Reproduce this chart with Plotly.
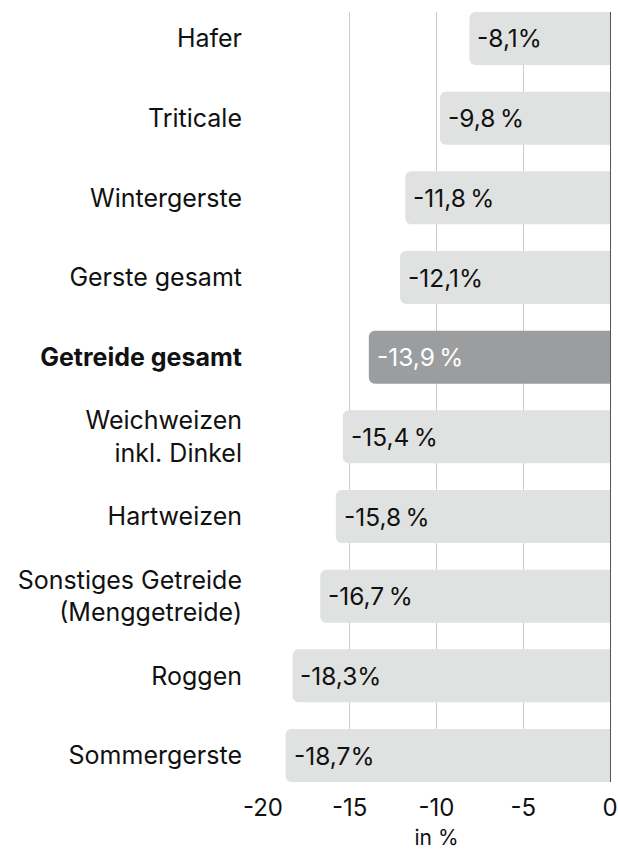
import plotly.graph_objects as go

categories = ["Hafer", "Triticale", "Wintergerste", "Gerste gesamt", "<b>Getreide gesamt</b>",
              "Weichweizen<br>inkl. Dinkel", "Hartweizen", "Sonstiges Getreide<br>(Menggetreide)",
              "Roggen", "Sommergerste"]
values = [-8.1, -9.8, -11.8, -12.1, -13.9, -15.4, -15.8, -16.7, -18.3, -18.7]
value_labels = ["-8,1%", "-9,8\u2009%", "-11,8\u2009%", "-12,1%", "-13,9\u2009%", "-15,4\u2009%",
                "-15,8\u2009%", "-16,7\u2009%", "-18,3%", "-18,7%"]
highlight = [False, False, False, False, True, False, False, False, False, False]
x_ticks = [-20, -15, -10, -5, 0]
x_tick_labels = ["-20", "-15", "-10", "-5", "0"]

FONT = "Inter, Liberation Sans, Arial, sans-serif"
LIGHT = "#e0e1e1"
DARK = "#9b9d9f"

colors = [DARK if h else LIGHT for h in highlight]
text_colors = ["#ffffff" if h else "#111111" for h in highlight]

fig = go.Figure()
fig.add_trace(go.Bar(
    x=values, y=categories, orientation="h",
    marker=dict(color=colors, line=dict(width=0)),
    width=0.665,
    hoverinfo="skip",
))
fig.update_traces(marker_cornerradius=6)

for c, v, t, tc in zip(categories, values, value_labels, text_colors):
    fig.add_annotation(x=v, y=c, text=t, showarrow=False, xanchor="left", yanchor="middle",
                       xshift=6, font=dict(family=FONT, size=24.5, color=tc))

fig.update_layout(
    width=618, height=850,
    margin=dict(l=263, r=8, t=12, b=68),
    paper_bgcolor="white", plot_bgcolor="white",
    showlegend=False,
    font=dict(family=FONT, color="#111111"),
    xaxis=dict(
        range=[-20, 0], tickvals=x_ticks, ticktext=x_tick_labels,
        showgrid=True, gridcolor="#cccccc", gridwidth=1,
        zeroline=True, zerolinecolor="#555555", zerolinewidth=1,
        showline=False, ticks="", tickfont=dict(size=24, family=FONT, color="#111111"),
        ticklabelstandoff=9, ticklabeloverflow="allow", automargin=False,
        title=dict(text="in %", font=dict(size=21, family=FONT, color="#111111"), standoff=15),
    ),
    yaxis=dict(
        type="category", range=[9.3325, -0.3325],
        showgrid=False, zeroline=False, showline=False, ticks="",
        tickfont=dict(size=25, family=FONT, color="#111111"),
        ticklabelstandoff=20, automargin=False,
    ),
)

fig.write_html("out.html")
